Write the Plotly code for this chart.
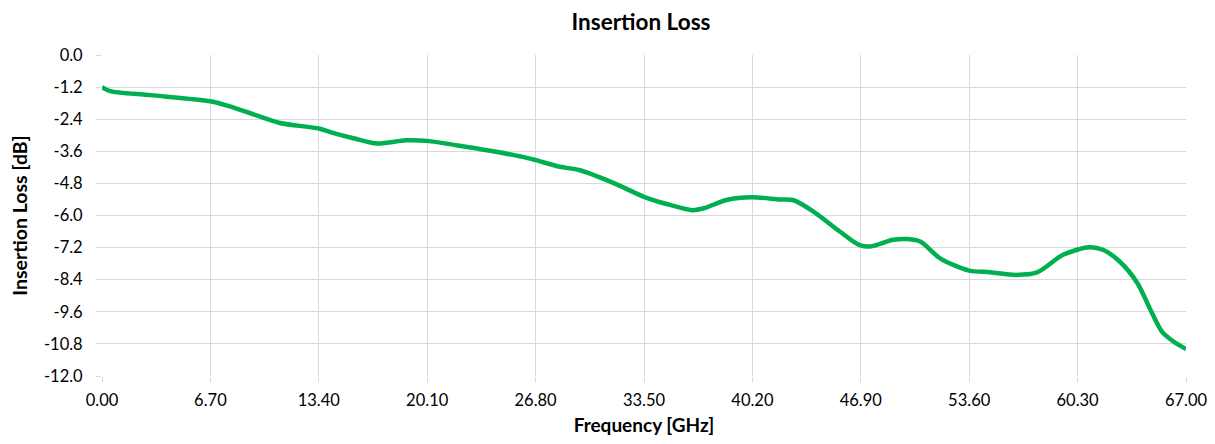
import plotly.graph_objects as go

freq_ghz = [0.0, 0.5, 3.0, 6.7, 7.9, 9.5, 11.0, 13.4, 14.1, 15.6, 17.0, 18.8, 20.1, 22.0, 24.0,
            26.0, 26.8, 28.3, 29.5, 31.6, 33.5, 34.9, 36.5, 37.2, 38.6, 40.2, 41.9, 42.7, 44.0,
            45.6, 46.8, 47.5, 48.9, 49.8, 50.6, 51.8, 53.6, 54.9, 56.5, 57.8, 59.4, 61.0, 61.9,
            62.9, 64.0, 64.8, 65.5, 66.2, 67.0]
loss_db = [-1.20, -1.35, -1.50, -1.73, -1.92, -2.25, -2.54, -2.75, -2.88, -3.12, -3.31, -3.19, -3.21, -3.38, -3.58,
           -3.81, -3.93, -4.18, -4.30, -4.78, -5.30, -5.57, -5.80, -5.73, -5.42, -5.32, -5.40, -5.42, -5.86,
           -6.60, -7.10, -7.16, -6.91, -6.88, -6.98, -7.60, -8.06, -8.12, -8.22, -8.13, -7.47, -7.19, -7.29,
           -7.72, -8.53, -9.52, -10.33, -10.70, -10.99]

x_tickvals = [0, 6.7, 13.4, 20.1, 26.8, 33.5, 40.2, 46.9, 53.6, 60.3, 67.0]
x_ticktext = ["0.00", "6.70", "13.40", "20.10", "26.80", "33.50", "40.20", "46.90", "53.60", "60.30", "67.00"]
y_tickvals = [0, -1.2, -2.4, -3.6, -4.8, -6.0, -7.2, -8.4, -9.6, -10.8, -12.0]
y_ticktext = ["0.0", "-1.2", "-2.4", "-3.6", "-4.8", "-6.0", "-7.2", "-8.4", "-9.6", "-10.8", "-12.0"]

FONT = "Lato, 'Open Sans', sans-serif"
GRID = "#D9D9D9"

# The page has an 8px body margin, so the figure is sized to fit inside it.
W, H = 1199, 428

fig = go.Figure()
fig.add_trace(go.Scatter(
    x=freq_ghz, y=loss_db, mode="lines",
    line=dict(color="#00B050", width=4.5, shape="spline", smoothing=0.8),
    showlegend=False, cliponaxis=False,
))

fig.update_layout(
    width=W, height=H,
    margin=dict(l=94, r=21, t=46.5, b=59.5, autoexpand=False),
    paper_bgcolor="white", plot_bgcolor="white",
    font=dict(family=FONT, color="#000000", size=16.5),
    title=dict(text="<b>Insertion Loss</b>", x=633 / W, xanchor="center",
               y=1 - 14 / H, yanchor="middle", xref="container", yref="container",
               font=dict(family=FONT, size=22.5, color="#000000")),
)
fig.update_xaxes(
    range=[0, 67], tickmode="array", tickvals=x_tickvals, ticktext=x_ticktext,
    showgrid=True, gridcolor=GRID, gridwidth=1.3, zeroline=False, automargin=False,
    showline=False, ticks="outside", ticklen=5, tickcolor=GRID, tickwidth=1.3,
    ticklabelstandoff=4, ticklabeloverflow="allow",
    tickfont=dict(family=FONT, size=16.5, color="#000000"),
    title=dict(text="<b>Frequency [GHz]</b>", font=dict(family=FONT, size=19, color="#000000"), standoff=10),
)
fig.update_yaxes(
    range=[-12, 0], tickmode="array", tickvals=y_tickvals, ticktext=y_ticktext,
    showgrid=True, gridcolor=GRID, gridwidth=1.3, zeroline=False, automargin=False,
    showline=False, ticks="outside", ticklen=5, tickcolor=GRID, tickwidth=1.3,
    ticklabelstandoff=10, ticklabeloverflow="allow",
    tickfont=dict(family=FONT, size=16.5, color="#000000"),
    title=dict(text="<b>Insertion Loss [dB]</b>", font=dict(family=FONT, size=19.5, color="#000000"), standoff=12),
)

fig.write_html("out.html")
